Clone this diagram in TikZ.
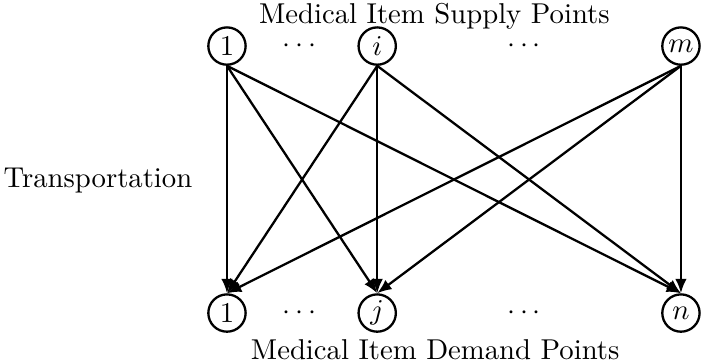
\documentclass[tikz,border=0pt]{standalone}
\usepackage{amsmath,amssymb}
\usepackage{tikz}
\usetikzlibrary{arrows.meta,positioning}

\begin{document}
\begin{tikzpicture}[
  pnt/.style={draw, circle, thick, inner sep=1pt, minimum size=13pt},
  dots/.style={inner sep=0pt},
  lbl/.style={inner sep=0pt},
  arr/.style={-{Latex[length=5pt,width=4pt]}, thick}
]
  \useasboundingbox (0,0) rectangle (8.598,4.434);

  % supply points
  \node[pnt] (s1) at (2.78,3.87) {$1$};
  \node[pnt] (si) at (4.62,3.87) {$i$};
  \node[pnt] (sm) at (8.34,3.87) {$m$};
  \node[dots] (sd1) at (3.70,3.87) {$\cdots$};
  \node[dots] (sd2) at (6.45,3.87) {$\cdots$};

  % demand points
  \node[pnt] (d1) at (2.78,0.60) {$1$};
  \node[pnt] (dj) at (4.62,0.60) {$j$};
  \node[pnt] (dn) at (8.34,0.60) {$n$};
  \node[dots] (dd1) at (3.70,0.60) {$\cdots$};
  \node[dots] (dd2) at (6.45,0.60) {$\cdots$};

  \node[lbl] (suptxt) at (5.32,4.24) {Medical Item Supply Points};
  \node[lbl, anchor=south] (demtxt) at (5.33,0.02) {Medical Item Demand Points};
  \node[lbl] (trtxt) at (1.20,2.22) {Transportation};

  \foreach \s in {s1,si,sm}
    \foreach \d in {d1,dj,dn}
      \draw[arr] (\s.south) -- (\d.north);
\end{tikzpicture}
\end{document}
